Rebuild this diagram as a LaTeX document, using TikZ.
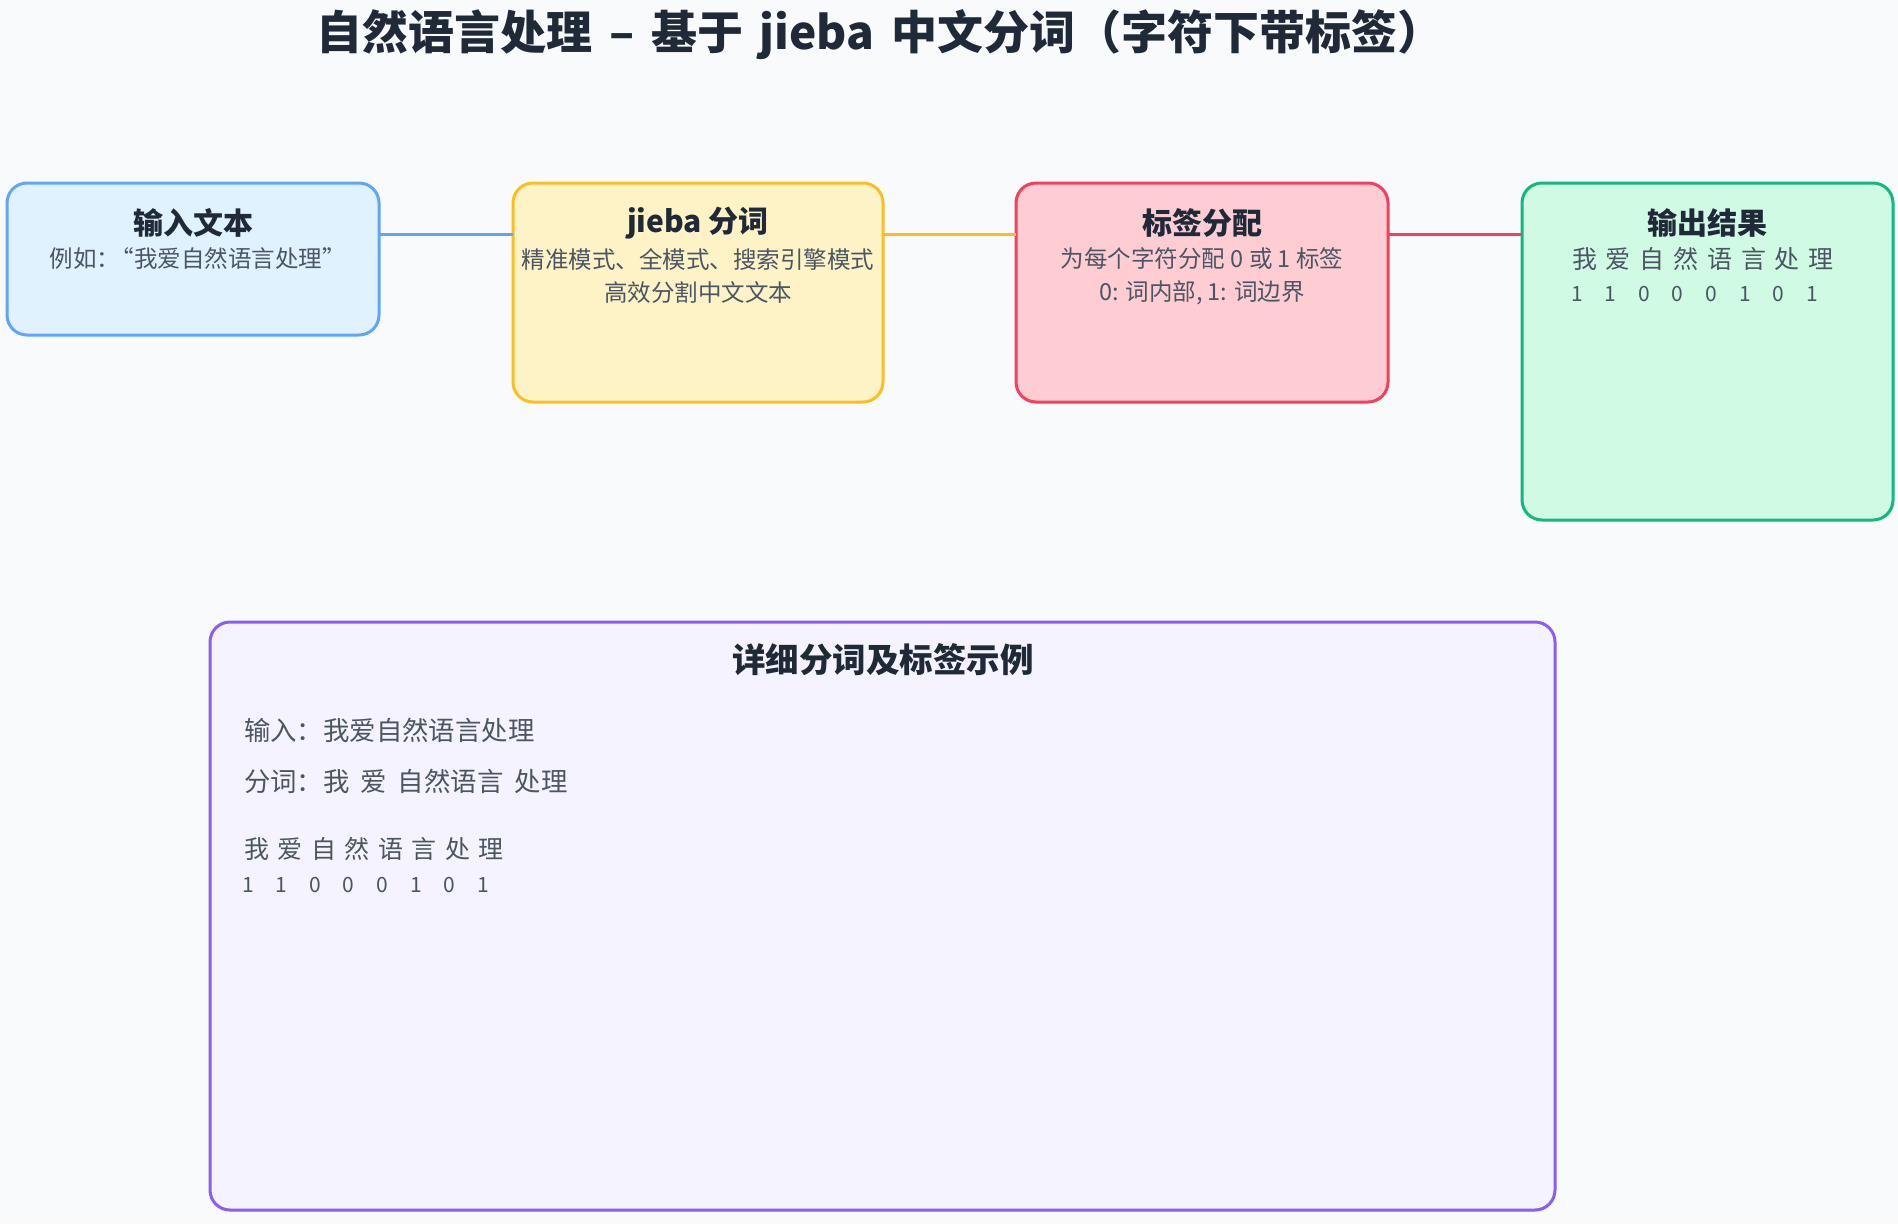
\documentclass[tikz,border=0pt]{standalone}
\usepackage{fontspec}
\setmainfont{Noto Sans CJK SC}
\definecolor{bg}{HTML}{F9FAFB}
\definecolor{headC}{HTML}{1F2937}
\definecolor{bodyC}{HTML}{4B5563}
\definecolor{blueS}{HTML}{60A5FA}
\definecolor{blueF}{HTML}{E0F2FE}
\definecolor{yelS}{HTML}{FBBF24}
\definecolor{yelF}{HTML}{FEF3C7}
\definecolor{redS}{HTML}{F43F5E}
\definecolor{redF}{HTML}{FECDD3}
\definecolor{grnS}{HTML}{10B981}
\definecolor{grnF}{HTML}{D1FAE5}
\definecolor{purS}{HTML}{8B5CF6}
\definecolor{purF}{HTML}{F5F3FF}
\newcommand\spacedrow[3]{\foreach \c in {#3}{\makebox[#1][#2]{\c}}}
\newcommand\wsp{\hspace{0.36em}}
\newcommand\bsp{\hspace{11pt}}
\tikzset{
  box/.style={draw, line width=3pt, rounded corners=20pt, anchor=north west, inner sep=0pt},
  head/.style={font=\fontsize{30}{36}\selectfont\bfseries, text=headC},
  body/.style={font=\fontsize{23.5}{28}\selectfont, text=bodyC},
  bbody/.style={font=\fontsize{26.4}{32}\selectfont, text=bodyC, anchor=west},
  chrow/.style={font=\fontsize{25}{30}\selectfont, text=bodyC, anchor=west},
  digrow/.style={font=\fontsize{21}{26}\selectfont, text=bodyC, anchor=west},
  conn/.style={line width=3pt}
}
\begin{document}
\begin{tikzpicture}[x=1pt,y=-1pt, every node/.style={inner sep=0pt, outer sep=0pt}]
\useasboundingbox (0,0) rectangle (1898,1224);
\fill[bg] (0,0) rectangle (1898,1224);

% title
\node[font=\fontsize{46}{55}\selectfont\bfseries, text=headC] (title) at (880,35) {自然语言处理\wsp{}–\wsp{}基于\wsp{}jieba\wsp{}中文分词（字符下带标签）};

% boxes
\node[box, draw=blueS, fill=blueF, minimum width=372pt, minimum height=152pt] (in) at (7,183) {};
\node[box, draw=yelS, fill=yelF, minimum width=370pt, minimum height=219pt] (jb) at (513,183) {};
\node[box, draw=redS, fill=redF, minimum width=372pt, minimum height=219pt] (lab) at (1016,183) {};
\node[box, draw=grnS, fill=grnF, minimum width=371pt, minimum height=337pt] (out) at (1522,183) {};
\node[box, draw=purS, fill=purF, minimum width=1345pt, minimum height=588pt] (det) at (210,622) {};

% connectors
\draw[conn, blueS] ([yshift=-51pt]in.north east) -- ([yshift=-51pt]jb.north west);
\draw[conn, yelS] ([yshift=-51pt]jb.north east) -- ([yshift=-51pt]lab.north west);
\draw[conn, redS] ([yshift=-51pt]lab.north east) -- ([yshift=-51pt]out.north west);

% input box
\node[head] (inh) at (193,223) {输入文本};
\node[body] (in1) at (193,259) {例如：\makebox[0.6em][r]{“}我爱自然语言处理\makebox[0.6em][l]{”}};

% jieba box
\node[head] (jbh) at (698,223) {jieba 分词};
\node[body] (jb1) at (698,259) {精准模式、全模式、搜索引擎模式};
\node[body] (jb2) at (698,293) {高效分割中文文本};

% label box
\node[head] (labh) at (1202,223) {标签分配};
\node[body] (lab1) at (1202,259) {为每个字符分配 0 或 1 标签};
\node[body] (lab2) at (1202,293) {0: 词内部, 1: 词边界};

% output box
\node[head] (outh) at (1707,223) {输出结果};
\node[chrow] (outc) at (1572,259) {\spacedrow{33.8pt}{l}{我,爱,自,然,语,言,处,理}};
\node[digrow] (outd) at (1560.2,294.5) {\spacedrow{33.6pt}{c}{1,1,0,0,0,1,0,1}};

% detail box
\node[font=\fontsize{33.5}{40}\selectfont\bfseries, text=headC] (deth) at (883,660) {详细分词及标签示例};
\node[bbody] (det1) at (244,730) {输入：我爱自然语言处理};
\node[bbody] (det2) at (244,781) {分词：我\bsp{}爱\bsp{}自然语言\bsp{}处理};
\node[chrow] (detc) at (244,849) {\spacedrow{33.5pt}{l}{我,爱,自,然,语,言,处,理}};
\node[digrow] (detd) at (231.2,884.5) {\spacedrow{33.6pt}{c}{1,1,0,0,0,1,0,1}};
\end{tikzpicture}
\end{document}
